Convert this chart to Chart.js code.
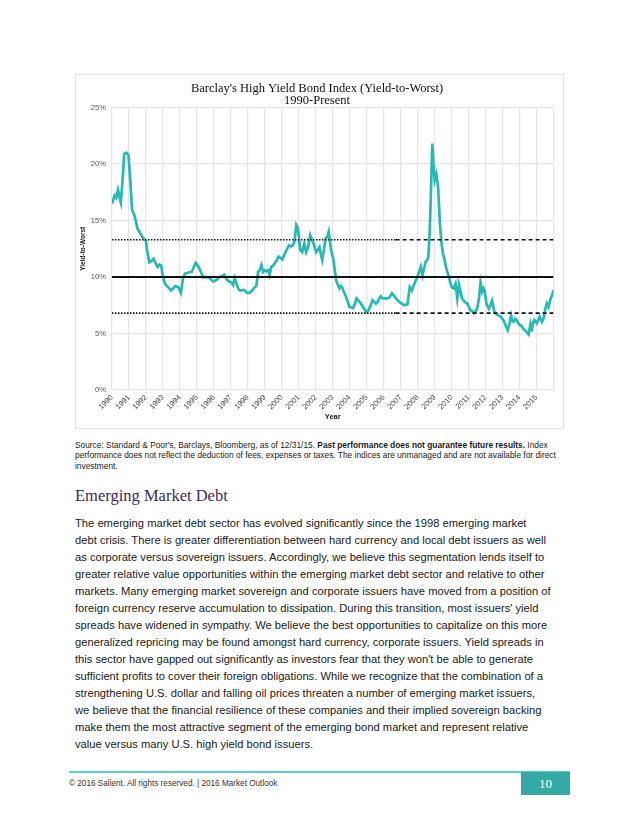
<!DOCTYPE html>
<html>
<head>
<meta charset="utf-8">
<script src="https://cdn.jsdelivr.net/npm/chart.js@4.4.1/dist/chart.umd.min.js"></script>
<style>
  body { margin: 0; background: #fff; width: 640px; height: 828px; position: relative; overflow: hidden;
         font-family: 'Liberation Sans', Arial, sans-serif; color: #1a1a1a; }
  #box { position: absolute; left: 75px; top: 74px; width: 487px; height: 353px; border: 1px solid #e3e3e3; }
  #source { position: absolute; left: 75px; top: 440px; width: 500px; font-size: 8.35px; line-height: 10.4px; white-space: nowrap; }
  h2 { position: absolute; left: 75px; top: 486px; margin: 0; font: normal 16.5px/20px 'Liberation Serif', serif; color: #3d2a5a; }
  #body { position: absolute; left: 75px; top: 515px; font-size: 11.2px; line-height: 17px; white-space: nowrap; }
  #rule { position: absolute; left: 69px; top: 771px; width: 501px; height: 1.5px; background: #5ccfc6; }
  #foot { position: absolute; left: 69px; top: 779px; font-size: 8.2px; color: #333; }
  #page { position: absolute; left: 521px; top: 772px; width: 49px; height: 23px; background: #33aaa6; color: #fff;
          font: 13px/23px 'Liberation Serif', serif; text-align: center; }
</style>
</head>
<body>
<div id="box"><canvas id="chart" width="487" height="353"></canvas></div>

<div id="source">Source: Standard &amp; Poor's, Barclays, Bloomberg, as of 12/31/15. <b>Past performance does not guarantee future results.</b> Index<br>performance does not reflect the deduction of fees, expenses or taxes. The indices are unmanaged and are not available for direct<br>investment.</div>

<h2>Emerging Market Debt</h2>

<div id="body">The emerging market debt sector has evolved significantly since the 1998 emerging market<br>debt crisis. There is greater differentiation between hard currency and local debt issuers as well<br>as corporate versus sovereign issuers. Accordingly, we believe this segmentation lends itself to<br>greater relative value opportunities within the emerging market debt sector and relative to other<br>markets. Many emerging market sovereign and corporate issuers have moved from a position of<br>foreign currency reserve accumulation to dissipation. During this transition, most issuers' yield<br>spreads have widened in sympathy. We believe the best opportunities to capitalize on this more<br>generalized repricing may be found amongst hard currency, corporate issuers. Yield spreads in<br>this sector have gapped out significantly as investors fear that they won't be able to generate<br>sufficient profits to cover their foreign obligations. While we recognize that the combination of a<br>strengthening U.S. dollar and falling oil prices threaten a number of emerging market issuers,<br>we believe that the financial resilience of these companies and their implied sovereign backing<br>make them the most attractive segment of the emerging bond market and represent relative<br>value versus many U.S. high yield bond issuers.</div>

<div id="rule"></div>
<div id="foot">© 2016 Salient. All rights reserved. | 2016 Market Outlook</div>
<div id="page">10</div>

<script>
// yield-to-worst readings (decimal year, %)
const dates = [
  1990.00, 1990.15, 1990.25, 1990.35, 1990.45, 1990.52, 1990.62, 1990.72, 1990.85, 1990.97,
  1991.08, 1991.18, 1991.35, 1991.50, 1991.65, 1991.80, 1991.92, 1992.00, 1992.07, 1992.20,
  1992.32, 1992.45, 1992.58, 1992.68, 1992.80, 1992.90, 1992.98, 1993.12, 1993.30, 1993.48,
  1993.60, 1993.72, 1993.90, 1994.06, 1994.18, 1994.30, 1994.50, 1994.70, 1994.85, 1994.93,
  1995.08, 1995.22, 1995.37, 1995.55, 1995.70, 1995.96, 1996.12, 1996.30, 1996.50, 1996.60,
  1996.75, 1996.90, 1997.04, 1997.13, 1997.23, 1997.35, 1997.48, 1997.60, 1997.80, 1997.95,
  1998.10, 1998.25, 1998.40, 1998.50, 1998.60, 1998.70, 1998.80, 1998.90, 1999.00, 1999.10,
  1999.20, 1999.28, 1999.38, 1999.48, 1999.58, 1999.70, 1999.80, 1999.92, 2000.03, 2000.12,
  2000.22, 2000.32, 2000.42, 2000.55, 2000.65, 2000.75, 2000.85, 2000.95, 2001.08, 2001.20,
  2001.32, 2001.43, 2001.55, 2001.67, 2001.78, 2001.87, 2002.02, 2002.12, 2002.22, 2002.30,
  2002.38, 2002.48, 2002.57, 2002.67, 2002.76, 2002.90, 2003.04, 2003.12, 2003.20, 2003.30,
  2003.39, 2003.47, 2003.55, 2003.65, 2003.78, 2003.88, 2003.98, 2004.10, 2004.20, 2004.30,
  2004.40, 2004.52, 2004.66, 2004.80, 2004.96, 2005.08, 2005.19, 2005.34, 2005.44, 2005.54,
  2005.64, 2005.74, 2005.83, 2005.93, 2006.05, 2006.22, 2006.35, 2006.48, 2006.60, 2006.72,
  2006.85, 2007.00, 2007.20, 2007.40, 2007.53, 2007.65, 2007.75, 2007.85, 2007.98, 2008.08,
  2008.18, 2008.28, 2008.38, 2008.47, 2008.56, 2008.63, 2008.71, 2008.78, 2008.86, 2008.93,
  2009.00, 2009.10, 2009.20, 2009.31, 2009.40, 2009.49, 2009.57, 2009.65, 2009.75, 2009.84,
  2009.92, 2010.00, 2010.13, 2010.23, 2010.33, 2010.43, 2010.52, 2010.62, 2010.76, 2010.92,
  2011.00, 2011.11, 2011.20, 2011.31, 2011.40, 2011.50, 2011.60, 2011.70, 2011.80, 2011.88,
  2011.94, 2012.05, 2012.12, 2012.19, 2012.28, 2012.38, 2012.45, 2012.52, 2012.65, 2012.78,
  2012.88, 2012.97, 2013.07, 2013.17, 2013.30, 2013.40, 2013.50, 2013.58, 2013.65, 2013.75,
  2013.81, 2013.90, 2014.00, 2014.10, 2014.20, 2014.30, 2014.40, 2014.47, 2014.53, 2014.63,
  2014.68, 2014.73, 2014.80, 2014.87, 2015.02, 2015.10, 2015.18, 2015.31, 2015.38, 2015.45,
  2015.52, 2015.60, 2015.70, 2015.78, 2015.83, 2015.92, 2016.00
];
const yields = [
  16.5, 17.2, 17.0, 17.7, 17.0, 16.6, 18.5, 20.9, 21.0, 20.8,
  18.5, 16.0, 15.3, 14.3, 13.9, 13.5, 13.3, 13.2, 12.3, 11.3,
  11.4, 11.6, 11.2, 10.9, 11.1, 11.0, 10.2, 9.4, 9.1, 8.8,
  9.0, 9.2, 9.1, 8.6, 9.9, 10.3, 10.4, 10.45, 11.0, 11.25,
  10.95, 10.5, 9.95, 10.0, 9.95, 9.6, 9.7, 9.95, 10.1, 10.2,
  9.8, 9.6, 9.5, 9.3, 9.9, 9.3, 8.85, 8.8, 8.85, 8.6,
  8.6, 8.8, 9.1, 9.2, 10.45, 10.6, 11.05, 10.45, 10.6, 10.5,
  10.6, 10.2, 10.9, 11.0, 11.2, 11.5, 11.8, 11.7, 11.55, 11.9,
  12.2, 12.5, 12.8, 12.7, 12.8, 13.2, 14.6, 14.3, 12.4, 12.2,
  12.95, 12.2, 12.65, 13.7, 13.3, 12.95, 12.2, 12.4, 12.65, 12.0,
  11.5, 12.4, 13.4, 13.5, 14.0, 12.4, 11.5, 10.6, 9.7, 9.3,
  9.0, 9.2, 9.1, 8.7, 8.25, 7.8, 7.35, 7.3, 7.25, 7.6,
  8.1, 7.9, 7.65, 7.3, 6.9, 7.0, 7.35, 7.95, 7.8, 7.65,
  7.8, 8.1, 8.3, 8.1, 8.1, 8.1, 8.2, 8.55, 8.35, 8.1,
  7.9, 7.7, 7.5, 7.6, 9.1, 8.8, 9.2, 9.55, 10.0, 10.45,
  10.9, 10.15, 10.8, 11.35, 11.5, 11.8, 14.1, 17.5, 21.8, 20.0,
  18.55, 19.1, 18.0, 14.7, 13.0, 12.05, 11.6, 11.0, 10.4, 10.0,
  9.5, 9.1, 9.0, 9.4, 8.1, 9.3, 8.7, 8.1, 7.8, 7.65,
  7.4, 7.05, 7.0, 6.8, 6.95, 7.2, 8.0, 9.5, 8.7, 9.0,
  8.8, 7.65, 7.4, 7.2, 7.5, 7.9, 7.4, 6.9, 6.7, 6.6,
  6.5, 6.35, 6.1, 5.75, 5.3, 5.8, 6.6, 6.1, 6.05, 6.3,
  6.2, 6.0, 5.75, 5.7, 5.45, 5.3, 5.15, 5.0, 4.9, 5.75,
  5.3, 5.45, 6.0, 6.2, 5.9, 6.2, 6.5, 6.05, 6.2, 6.6,
  7.2, 7.65, 7.35, 7.8, 8.1, 8.4, 8.85
];
const yearLabels = ['1990','1991','1992','1993','1994','1995','1996','1997','1998','1999','2000','2001','2002',
  '2003','2004','2005','2006','2007','2008','2009','2010','2011','2012','2013','2014','2015'];
const yTicks = [0, 5, 10, 15, 20, 25];

// average and +/- one std dev bands
const meanYield = 10.0;
const upperBand = 13.3;
const lowerBand = 6.8;
const dashFrom = 2006.7;   // bands switch from dotted to dashed here
const xMin = 1990, xMax = 2016;

const seg = (a, b, v) => [{ x: a, y: v }, { x: b, y: v }];
const refLine = (data, dash, width) => ({
  data, borderColor: '#111', borderWidth: width, borderDash: dash, pointRadius: 0, fill: false
});

new Chart(document.getElementById('chart'), {
  type: 'line',
  data: {
    datasets: [
      refLine(seg(xMin, xMax, meanYield), [], 2),
      refLine(seg(xMin, dashFrom, upperBand), [1.5, 1.5], 1.6),
      refLine(seg(dashFrom, xMax, upperBand), [4, 3], 1.6),
      refLine(seg(xMin, dashFrom, lowerBand), [1.5, 1.5], 1.6),
      refLine(seg(dashFrom, xMax, lowerBand), [4, 3], 1.6),
      {
        data: dates.map((d, i) => ({ x: d, y: yields[i] })),
        borderColor: '#25bab3',
        borderWidth: 2.7,
        pointRadius: 0,
        tension: 0,
        fill: false
      }
    ]
  },
  options: {
    responsive: false,
    animation: false,
    layout: { padding: { left: 3, right: 8, top: 0, bottom: 7 } },
    plugins: {
      legend: { display: false },
      tooltip: { enabled: false },
      title: {
        display: true,
        text: ["Barclay's High Yield Bond Index (Yield-to-Worst)", '1990-Present'],
        color: '#111',
        font: { family: "'Liberation Serif', serif", size: 12.5, weight: 'normal', lineHeight: 1.02 },
        padding: { top: 7, bottom: 0 }
      }
    },
    scales: {
      x: {
        type: 'linear',
        min: xMin,
        max: xMax,
        border: { display: false },
        grid: { color: '#e6e6e6', lineWidth: 1.2, drawTicks: false },
        ticks: {
          stepSize: 1,
          autoSkip: false,
          maxRotation: 45,
          minRotation: 45,
          padding: 3,
          color: '#444',
          font: { family: "'Liberation Sans', Arial", size: 7.6 },
          callback: v => yearLabels[v - xMin] || ''
        },
        title: {
          display: true, text: 'Year', color: '#222', padding: 0,
          font: { family: "'Liberation Sans', Arial", size: 7.5, weight: 'bold' }
        },
        afterFit: s => { s.height = 31; }
      },
      y: {
        min: yTicks[0],
        max: yTicks[yTicks.length - 1],
        border: { display: false },
        grid: { color: '#e6e6e6', lineWidth: 1.2, drawTicks: false },
        ticks: {
          stepSize: yTicks[1] - yTicks[0],
          padding: 6,
          color: '#555',
          font: { family: "'Liberation Sans', Arial", size: 7.6 },
          callback: v => v + '%'
        },
        title: {
          display: true, text: 'Yield-to-Worst', color: '#222', padding: 0,
          font: { family: "'Liberation Sans', Arial", size: 6.5, weight: 'bold' }
        },
        afterFit: s => { s.width = 33; }
      }
    }
  }
});
</script>
</body>
</html>
